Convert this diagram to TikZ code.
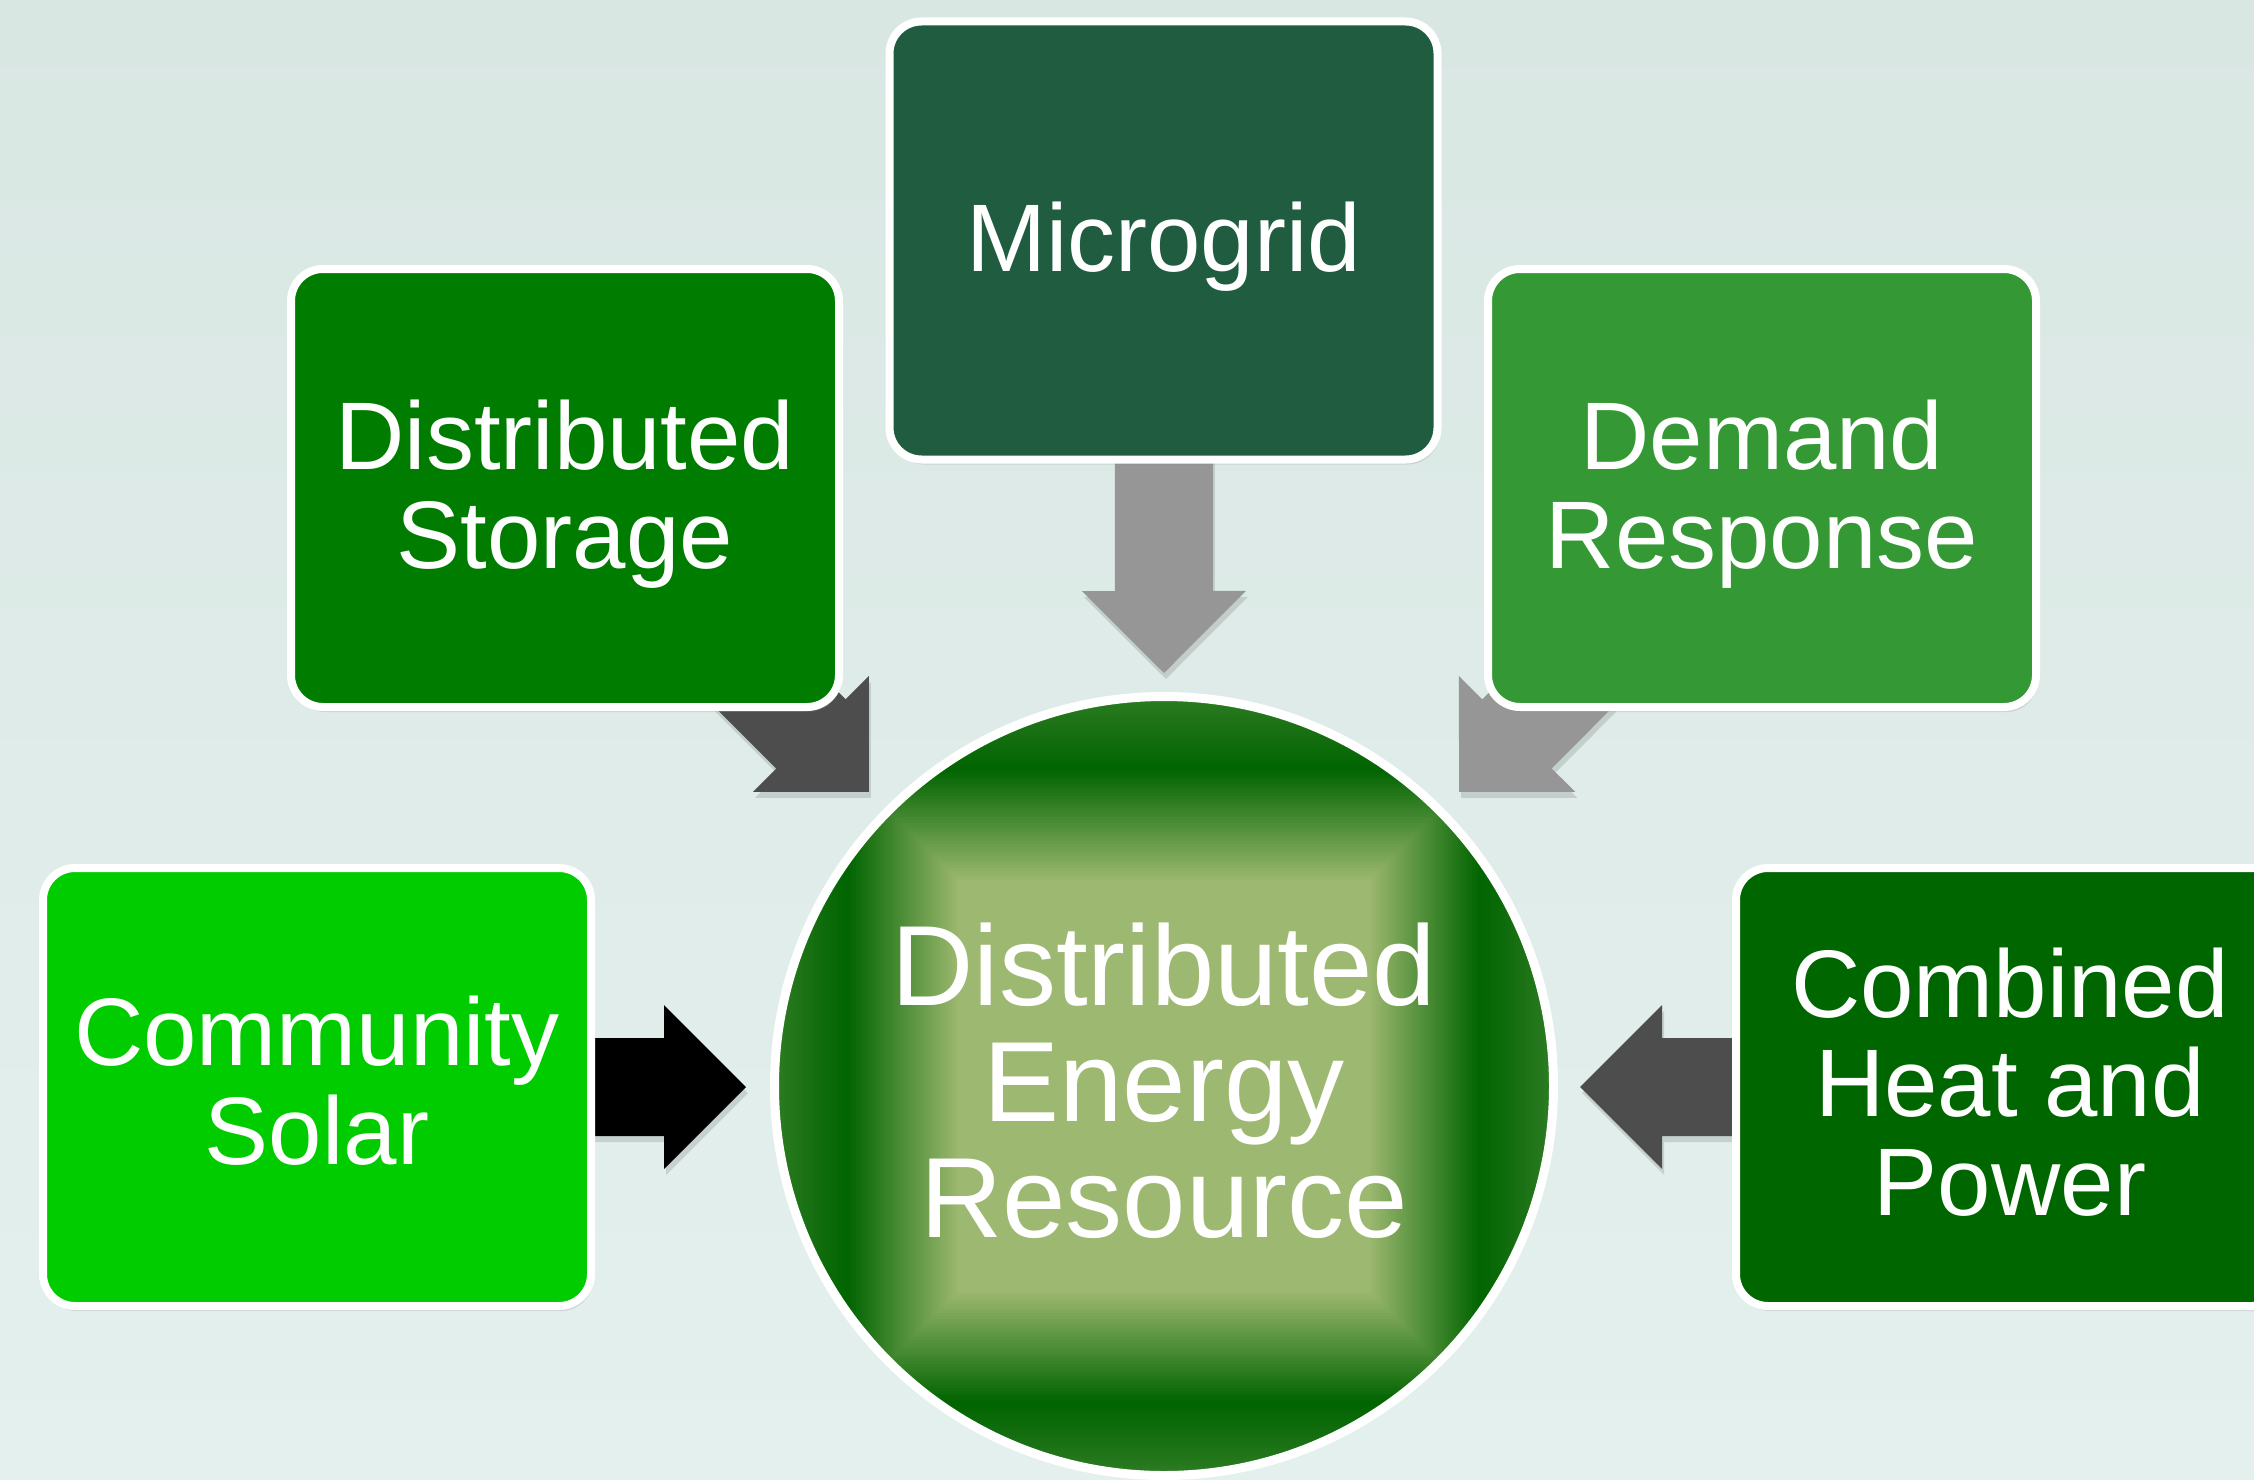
\documentclass[tikz,border=0pt]{standalone}
\usepackage{fontspec}
\setmainfont{Liberation Sans}
\usetikzlibrary{calc,shadows}
\pgfdeclarelayer{bglayer}
\pgfdeclarelayer{arrowlayer}
\pgfsetlayers{bglayer,arrowlayer,main}
\definecolor{bgtop}{HTML}{D9E7E3}
\definecolor{bgbot}{HTML}{E4F0EE}
\definecolor{cmicro}{HTML}{1F5C40}
\definecolor{cstore}{HTML}{007D00}
\definecolor{cdemand}{HTML}{349934}
\definecolor{csolar}{HTML}{00CC00}
\definecolor{cchp}{HTML}{006600}
\definecolor{agray}{HTML}{969696}
\definecolor{adark}{HTML}{4D4D4D}
\definecolor{gdark}{HTML}{006400}
\definecolor{gmid}{HTML}{2A7A20}
\definecolor{glight}{HTML}{9DB870}
\tikzset{
  boxnode/.style={draw=white, line width=8pt, rounded corners=32pt,
    minimum width=548pt, minimum height=438pt, inner sep=0pt,
    drop shadow={shadow xshift=2pt, shadow yshift=-5pt, opacity=0.22}},
  boxtext/.style={text=white, align=center, inner sep=0pt,
    font=\fontsize{96}{99}\selectfont},
  dernode/.style={circle, draw=white, line width=9pt, minimum size=779pt,
    inner sep=0pt},
  dertext/.style={text=white, align=center, inner sep=0pt,
    font=\fontsize{114}{116}\selectfont},
}
% block arrow from #1 to tip #2 in colour #3
\newcommand{\blockarrow}[3]{%
  \path let \p1=($(#2)-(#1)$) in \pgfextra{%
    \pgfmathsetmacro\arrang{atan2(\y1,\x1)}%
    \pgfmathsetmacro\arrlen{veclen(\x1,\y1)}%
    \global\let\garrang\arrang\global\let\garrlen\arrlen};
  \fill[black, opacity=0.12, shift={($(#1)+(2,6)$)}, rotate=\garrang]
    (0,-49) -- ({\garrlen-82},-49) -- ({\garrlen-82},-82) -- (\garrlen,0)
    -- ({\garrlen-82},82) -- ({\garrlen-82},49) -- (0,49) -- cycle;
  \fill[#3, shift={(#1)}, rotate=\garrang]
    (0,-49) -- ({\garrlen-82},-49) -- ({\garrlen-82},-82) -- (\garrlen,0)
    -- ({\garrlen-82},82) -- ({\garrlen-82},49) -- (0,49) -- cycle;
}
\begin{document}
\begin{tikzpicture}[x=1pt,y=-1pt]
\useasboundingbox (0,0) rectangle (2254,1480);
\clip (0,0) rectangle (2254,1480);
\begin{pgfonlayer}{bglayer}
  \shade[top color=bgtop, bottom color=bgbot] (0,0) rectangle (2254,1480);
\end{pgfonlayer}

% boxes
\node[boxnode, fill=cmicro]  (mg) at (1163.5,240.5) {};
\node[boxnode, fill=cstore]  (ds) at (565,488) {};
\node[boxnode, fill=cdemand] (dr) at (1762,488) {};
\node[boxnode, fill=csolar]  (cs) at (317,1087) {};
\node[boxnode, fill=cchp]    (chp) at (2010,1087) {};
\node[boxtext] (mgt)  at ($(mg.center)+(0,6)$) {Microgrid};
\node[boxtext] (dst)  at ($(ds.center)+(0,6)$) {Distributed\\Storage};
\node[boxtext] (drt)  at ($(dr.center)+(0,6)$) {Demand\\Response};
\node[boxtext] (cst)  at ($(cs.center)+(0,-6)$) {Community\\Solar};
\node[boxtext] (chpt) at ($(chp.center)+(0,-5)$) {Combined\\Heat and\\Power};

% central circle with rectangular gradient
\coordinate (dc) at (1164,1086);
\begin{scope}
  \clip (dc) circle[radius=386];
  \fill[gmid] (dc) circle[radius=386];
  \foreach \d in {386,383,...,200} {
    \pgfmathsetmacro\pp{min(100,max(0,(\d-318)/68*100))}
    \pgfmathsetmacro\qq{min(100,max(0,(318-\d)/112*100))}
    \colorlet{tmpa}{gmid!\pp!gdark}
    \colorlet{tmpb}{glight!\qq!tmpa}
    \fill[tmpb] ($(dc)+(-\d,-\d)$) rectangle ($(dc)+(\d,\d)$);
  }
\end{scope}
\node[dernode] (der) at (dc) {};
\node[dertext] (dert) at ($(der.center)+(0,-5)$) {Distributed\\Energy\\Resource};

% arrow tips
\coordinate (tmg) at ($(der.center)+(0,-413)$);
\coordinate (tds) at ($(der.center)+(-295,-294)$);
\coordinate (tdr) at ($(der.center)+(295,-294)$);
\coordinate (tcs) at ($(der.center)+(-418,1)$);
\coordinate (tchp) at ($(der.center)+(416,1)$);

\begin{pgfonlayer}{arrowlayer}
  \blockarrow{mg.center}{tmg}{agray}
  \blockarrow{ds.center}{tds}{adark}
  \blockarrow{dr.center}{tdr}{agray}
  \blockarrow{cs.center}{tcs}{black}
  \blockarrow{chp.center}{tchp}{adark}
\end{pgfonlayer}
\end{tikzpicture}
\end{document}
